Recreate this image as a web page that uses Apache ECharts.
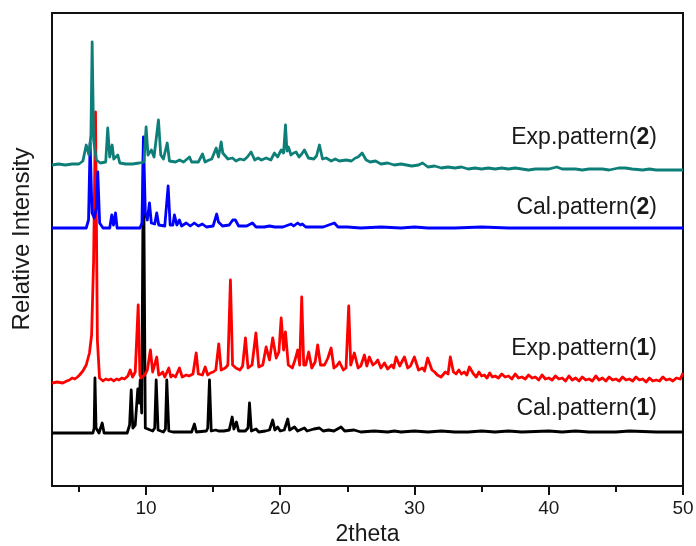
<!DOCTYPE html>
<html>
<head>
<meta charset="utf-8">
<script src="https://cdn.jsdelivr.net/npm/echarts@6/dist/echarts.min.js"></script>
<style>html,body{margin:0;padding:0;background:#fff}#c{width:696px;height:546px}</style>
</head>
<body>
<div id="c"></div>
<script>
// x-axis ticks
var tickLabels = [10, 20, 30, 40, 50];
var minorTicks = [5, 15, 25, 35, 45];
var seriesNames = ['Cal.pattern(1)', 'Exp.pattern(1)', 'Cal.pattern(2)', 'Exp.pattern(2)'];
// vertical offsets (stacking) for each pattern, same order as seriesNames
var offsets = [53, 106, 258, 321];

// [2theta, relative intensity above the pattern's own baseline]
var cal1 = [[3,0],[6.05,0],[6.14,5],[6.2,55],[6.28,5],[6.5,0],[6.6,1],[6.74,10],[6.88,0],[8.6,0],[8.78,8],[8.9,43],[9.02,5],[9.2,8],[9.39,44],[9.5,30],[9.57,53],[9.68,20],[9.81,293],[9.95,5],[10.5,2],[10.65,5],[10.76,53],[10.9,3],[11.3,1],[11.45,4],[11.55,53],[11.7,2],[12.0,1],[12.5,1],[13.0,1],[13.4,1],[13.61,9],[13.75,1],[14.5,2],[14.6,5],[14.73,53],[14.86,2],[15.2,3],[15.4,2],[15.8,2],[16.2,3],[16.42,16],[16.55,4],[16.74,11],[16.9,2],[17.4,2],[17.6,5],[17.71,30],[17.85,2],[18.2,4],[18.4,1],[18.9,2],[19.2,3],[19.44,13],[19.6,3],[19.81,6],[20.0,2],[20.3,3],[20.56,14],[20.7,3],[21.06,6],[21.3,2],[21.8,5],[22.0,2],[22.5,4],[22.92,5],[23.2,2],[23.6,3],[24.0,2],[24.53,6],[24.8,2],[25.5,3],[26,1],[27,2],[28,1],[28.5,2],[29,1],[30,2],[31,1],[32,2],[33,1],[34,1],[35,2],[36,1],[37,2],[38,1],[40,2],[41,1],[42,2],[43,1],[45,1],[46,2],[48,1],[50,1]];

var exp1 = [[3,-3],[3.4,-2],[3.8,-3],[4.1,-1],[4.3,0],[4.5,2],[4.7,1],[4.9,3],[5.05,5],[5.3,9],[5.55,15],[5.79,27],[5.95,45],[6.1,120],[6.24,268],[6.38,40],[6.54,2],[6.8,-1],[7.0,1],[7.2,0],[7.4,1],[7.6,-1],[7.8,1],[8.0,0],[8.2,2],[8.4,1],[8.65,4],[8.82,10],[9.0,3],[9.2,8],[9.42,75],[9.55,5],[9.64,2],[9.9,5],[10.1,10],[10.33,30],[10.5,8],[10.6,10],[10.8,23],[10.95,5],[11.1,6],[11.25,8],[11.4,3],[11.7,12],[11.85,3],[12.0,5],[12.2,3],[12.49,12],[12.7,3],[13.0,5],[13.2,4],[13.5,6],[13.74,27],[13.9,6],[14.2,5],[14.41,13],[14.6,5],[14.8,7],[15.0,8],[15.2,10],[15.42,36],[15.6,10],[15.9,12],[16.1,15],[16.29,100],[16.45,15],[16.7,12],[17.0,10],[17.2,14],[17.41,42],[17.6,12],[17.9,15],[18.19,47],[18.4,13],[18.7,15],[18.95,33],[19.2,20],[19.44,42],[19.7,22],[19.9,28],[20.07,62],[20.25,30],[20.39,48],[20.6,15],[20.9,12],[21.1,20],[21.3,30],[21.45,15],[21.6,83],[21.75,15],[21.9,15],[22.12,28],[22.35,12],[22.6,18],[22.79,35],[23.0,15],[23.3,15],[23.55,22],[23.79,32],[24.0,12],[24.2,14],[24.41,18],[24.7,10],[24.9,12],[25.1,74],[25.25,15],[25.52,27],[25.8,12],[26.0,14],[26.27,25],[26.45,14],[26.64,23],[26.9,15],[27.1,17],[27.26,20],[27.5,12],[27.76,17],[28.0,11],[28.3,15],[28.45,12],[28.63,23],[28.9,14],[29.05,18],[29.25,23],[29.5,12],[29.7,14],[29.99,23],[30.3,10],[30.6,12],[30.75,9],[30.98,22],[31.3,10],[31.5,8],[31.7,5],[31.98,3],[32.3,8],[32.5,6],[32.67,23],[32.9,8],[33.1,6],[33.3,10],[33.5,6],[33.7,8],[33.9,5],[34.09,13],[34.4,6],[34.6,3],[34.8,8],[35.0,4],[35.2,5],[35.4,2],[35.6,7],[35.8,3],[36.0,4],[36.25,2],[36.5,6],[36.75,3],[37.0,4],[37.25,1],[37.5,6],[37.75,2],[38.0,3],[38.25,1],[38.5,5],[38.75,2],[39.0,3],[39.25,0],[39.5,5],[39.75,1],[40.0,2],[40.25,0],[40.5,4],[40.75,1],[41.0,2],[41.25,-1],[41.5,4],[41.75,0],[42.0,2],[42.25,-1],[42.5,3],[42.75,0],[43.0,1],[43.25,-1],[43.5,4],[43.75,0],[44.0,2],[44.25,-1],[44.5,3],[44.75,0],[45.0,1],[45.25,-1],[45.5,3],[45.75,0],[46,1],[46.25,-1],[46.5,3],[46.75,0],[47,1],[47.25,-2],[47.5,2],[47.75,-1],[48,0],[48.25,-1],[48.5,3],[48.75,0],[49,1],[49.25,-1],[49.5,2],[49.8,1],[50,7]];

var cal2 = [[3,0],[5.55,0],[5.72,8],[5.84,85],[5.98,15],[6.15,10],[6.3,20],[6.41,56],[6.55,5],[6.8,0],[7.3,0],[7.45,13],[7.58,3],[7.73,15],[7.85,0],[9.55,0],[9.7,5],[9.81,91],[9.95,15],[10.1,8],[10.26,25],[10.4,5],[10.65,4],[10.8,15],[10.95,3],[11.4,2],[11.65,42],[11.8,3],[12.0,3],[12.12,13],[12.3,3],[12.49,8],[12.65,2],[13.0,5],[13.3,2],[13.6,5],[13.9,2],[14.2,4],[14.5,1],[15.0,2],[15.27,14],[15.4,6],[15.47,5],[15.7,2],[16.2,3],[16.46,8],[16.56,6],[16.66,8],[16.9,2],[17.5,2],[17.93,5],[18.2,1],[18.8,1],[19.2,2],[19.6,1],[20.2,1],[20.81,4],[21.0,2],[21.3,5],[21.5,3],[21.65,4],[21.9,1],[22.5,1],[23.2,1],[24.03,5],[24.3,1],[25,1],[26,0],[27.5,1],[29,0],[30,1],[31,0],[33,0],[35,1],[37,0],[40,0],[44,0],[47,0],[50,0]];

var exp2 = [[3,0],[3.5,1],[4,0],[4.5,1],[5,1],[5.3,4],[5.55,20],[5.75,10],[5.9,30],[5.99,123],[6.1,25],[6.3,5],[6.6,2],[7.0,3],[7.15,37],[7.3,8],[7.48,20],[7.6,6],[7.9,10],[8.05,2],[8.5,1],[9.0,1],[9.5,2],[9.85,3],[10.01,38],[10.15,10],[10.4,15],[10.6,8],[10.93,45],[11.1,10],[11.3,6],[11.58,22],[11.75,4],[12.2,3],[12.5,5],[12.8,3],[13.24,8],[13.4,3],[13.9,3],[14.21,11],[14.4,3],[14.7,5],[14.9,6],[15.23,17],[15.4,8],[15.6,23],[15.72,12],[15.84,13],[16.1,6],[16.44,7],[16.7,4],[17.0,6],[17.3,5],[17.55,8],[17.83,13],[18.1,5],[18.35,7],[18.6,5],[18.95,7],[19.3,5],[19.57,12],[19.8,8],[20.07,15],[20.25,12],[20.39,40],[20.5,14],[20.61,18],[20.8,10],[21.0,12],[21.18,13],[21.4,8],[21.6,11],[21.8,15],[22.1,7],[22.5,6],[22.7,9],[22.92,20],[23.15,6],[23.42,7],[23.8,4],[24.1,6],[24.4,4],[24.91,5],[25.3,4],[25.6,7],[25.8,8],[26.1,12],[26.4,5],[26.7,3],[27.1,4],[27.5,1],[28.0,2],[28.5,0],[29.0,1],[29.8,-1],[30.3,0],[30.6,2],[31,-2],[31.5,-1],[32,-3],[32.5,-2],[33,-3],[33.5,-2],[34,-4],[34.5,-3],[35,-4],[35.5,-3],[36,-4],[36.5,-3],[37,-4],[37.5,-3],[38,-4],[38.5,-5],[39,-4],[39.5,-4],[40,-4],[40.6,-2],[41,-4],[41.5,-4],[42,-4],[42.5,-5],[43,-4],[43.5,-4],[44,-4],[44.5,-5],[45.2,-3],[45.7,-3],[46.2,-4],[47,-5],[47.5,-4],[48,-5],[48.5,-5],[49,-5],[49.5,-5],[50,-5]];

var patterns = [cal1, exp1, cal2, exp2];
var colors = ['#000000', '#ff0000', '#0000ff', '#0d7f78'];
var labelY = [408, 348, 207, 137];
var labelNum = ['1', '1', '2', '2'];
var labelPrefix = ['Cal.pattern(', 'Exp.pattern(', 'Cal.pattern(', 'Exp.pattern('];

var FONT = '"Liberation Sans", Arial, Helvetica, sans-serif';

var chart = echarts.init(document.getElementById('c'), null, {renderer: 'canvas'});

var series = patterns.map(function (p, i) {
  return {
    name: seriesNames[i],
    type: 'line',
    xAxisIndex: 0,
    yAxisIndex: 0,
    showSymbol: false,
    symbol: 'none',
    silent: true,
    animation: false,
    z: 2 + i,
    lineStyle: {color: colors[i], width: 2.8, join: 'round'},
    data: p.map(function (d) { return [d[0], d[1] + offsets[i]]; })
  };
});

var graphics = [];
for (var i = 0; i < 4; i++) {
  graphics.push({
    type: 'text',
    right: 39,
    top: labelY[i] - 11,
    style: {
      text: '{n|' + labelPrefix[i] + '}{b|' + labelNum[i] + '}{n|)}',
      rich: {
        n: {fontSize: 23, fontFamily: FONT, fill: '#1a1a1a', fontWeight: 'normal'},
        b: {fontSize: 23, fontFamily: FONT, fill: '#1a1a1a', fontWeight: 'bold'}
      }
    }
  });
}
graphics.push({
  type: 'text',
  x: 22, y: 239,
  rotation: Math.PI / 2,
  style: {text: 'Relative Intensity', fontSize: 24, fontFamily: FONT, fill: '#1a1a1a', align: 'center', verticalAlign: 'middle'}
});

chart.setOption({
  animation: false,
  backgroundColor: '#ffffff',
  grid: {left: 52, right: 13, top: 13, bottom: 60, containLabel: false, outerBoundsMode: 'none', show: true, borderColor: '#111', borderWidth: 2, backgroundColor: 'transparent'},
  xAxis: [{
    type: 'value', min: 3, max: 50,
    axisLine: {show: true, onZero: false, lineStyle: {color: '#111', width: 2}},
    axisTick: {show: true, inside: false, length: 9, customValues: tickLabels, lineStyle: {color: '#111', width: 2}},
    axisLabel: {show: true, customValues: tickLabels, fontSize: 19, fontFamily: FONT, color: '#1a1a1a', margin: 13},
    splitLine: {show: false},
    name: '2theta', nameLocation: 'middle', nameGap: 35,
    nameTextStyle: {fontSize: 23, fontFamily: FONT, color: '#1a1a1a'}
  }, {
    type: 'value', min: 3, max: 50, position: 'bottom',
    axisLine: {show: false, onZero: false},
    axisTick: {show: true, inside: false, length: 6, customValues: minorTicks, lineStyle: {color: '#111', width: 2}},
    axisLabel: {show: false},
    splitLine: {show: false}
  }],
  yAxis: {
    type: 'value', min: 0, max: 473,
    axisLine: {show: true, lineStyle: {color: '#111', width: 2}},
    axisTick: {show: false}, axisLabel: {show: false}, splitLine: {show: false}
  },
  series: series,
  graphic: graphics
});
</script>
</body>
</html>
